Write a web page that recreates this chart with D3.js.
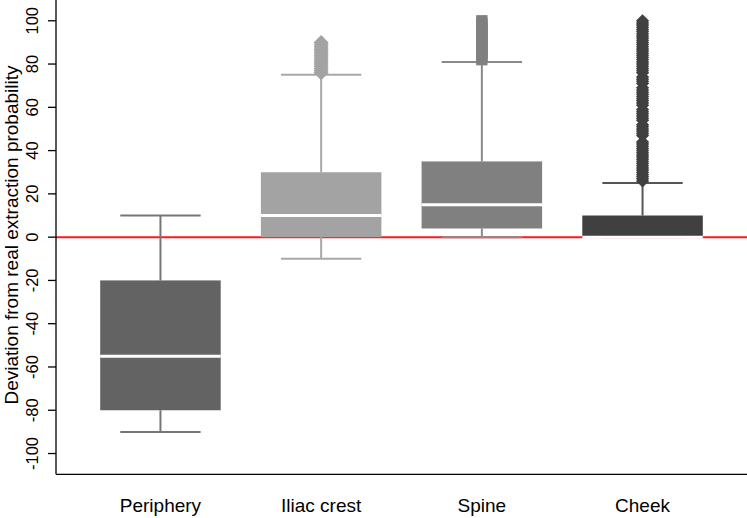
<!DOCTYPE html>
<html>
<head>
<meta charset="utf-8">
<script src="https://cdn.jsdelivr.net/npm/d3@7"></script>
<style>
  body { margin: 0; background: #fff; }
  text { font-family: "Liberation Sans", Arial, sans-serif; }
</style>
</head>
<body>
<div id="chart"></div>
<script>
// box statistics
const categories = ["Periphery", "Iliac crest", "Spine", "Cheek"];
const whiskerLow  = [-90, -10, 0, 0];
const q1          = [-80, 0, 4, 0];
const medians     = [-55, 10, 15, 0];
const q3          = [-20, 30, 35, 10];
const whiskerHigh = [10, 75, 81, 25];

// outliers (dense runs of points above the upper whisker)
const outliersPeriphery = [];
const outliersIliac = [76,77,78,79,80,81,82,83,84,85,86,87,88,89,90];
const outliersSpine = [82,83,84,85,86,87,88,89,90,91,92,93,94,95,96,97,98,99,100];
const outliersCheek = [26,27,28,29,30,31,32,33,34,35,36,37,38,39,40,41,42,43,44,47,48,49,50,51,52,54,55,56,57,58,59,61,62,63,64,65,66,67,68,69,71,72,73,74,76,77,78,79,80,81,82,83,84,85,86,87,88,89,90,91,92,93,94,95,96,97,98,99,100];
const outliers = [outliersPeriphery, outliersIliac, outliersSpine, outliersCheek];

const yTicks = [-100, -80, -60, -40, -20, 0, 20, 40, 60, 80, 100];

// styling
const boxColors     = ["#636363", "#a3a3a3", "#808080", "#404040"];
const whiskerColors = ["#767676", "#a8a8a8", "#8a8a8a", "#555555"];
const outlierShape  = [null, "diamond", "square", "diamond"];

const width = 747, height = 518;
const svg = d3.select("#chart").append("svg")
  .attr("width", width).attr("height", height);

const x = d3.scaleLinear().domain([0.35, 4.65]).range([56, 747]);
const y = d3.scaleLinear().domain([-109.6, 109.6]).range([474.3, 0]);
const boxW = x(0.75) - x(0);
const capW = x(0.5) - x(0);

// reference line at zero
svg.append("line")
  .attr("x1", x.range()[0]).attr("x2", x.range()[1])
  .attr("y1", y(0)).attr("y2", y(0))
  .attr("stroke", "#ff1a1a").attr("stroke-width", 2);

const groups = svg.selectAll("g.box").data(categories).enter().append("g").attr("class", "box");

groups.each(function(cat, i) {
  const g = d3.select(this);
  const cx = x(i + 1);
  // whisker stems
  g.append("line").attr("x1", cx).attr("x2", cx)
    .attr("y1", y(whiskerLow[i])).attr("y2", y(q1[i]))
    .attr("stroke", whiskerColors[i]).attr("stroke-width", 2);
  g.append("line").attr("x1", cx).attr("x2", cx)
    .attr("y1", y(q3[i])).attr("y2", y(whiskerHigh[i]))
    .attr("stroke", whiskerColors[i]).attr("stroke-width", 2);
  // caps
  [whiskerLow[i], whiskerHigh[i]].forEach(v => {
    g.append("line").attr("x1", cx - capW / 2).attr("x2", cx + capW / 2)
      .attr("y1", y(v)).attr("y2", y(v))
      .attr("stroke", whiskerColors[i]).attr("stroke-width", 2);
  });
  // box
  g.append("rect")
    .attr("x", cx - boxW / 2).attr("width", boxW)
    .attr("y", y(q3[i])).attr("height", y(q1[i]) - y(q3[i]))
    .attr("fill", boxColors[i]);
  // median
  g.append("line").attr("x1", cx - boxW / 2).attr("x2", cx + boxW / 2)
    .attr("y1", y(medians[i])).attr("y2", y(medians[i]))
    .attr("stroke", "#fff").attr("stroke-width", 3);
  // outliers
  const shape = outlierShape[i];
  outliers[i].forEach(v => {
    const cy = y(v);
    if (shape === "square") {
      const s = 11.3;
      g.append("rect").attr("x", cx - s / 2).attr("y", cy - s / 2)
        .attr("width", s).attr("height", s).attr("fill", boxColors[i]);
    } else {
      const r = i === 1 ? 7.5 : 6.6;
      g.append("path")
        .attr("d", `M${cx},${cy - r}L${cx + r},${cy}L${cx},${cy + r}L${cx - r},${cy}Z`)
        .attr("fill", boxColors[i]);
    }
  });
});

// axes
svg.append("line").attr("x1", 56).attr("x2", 56).attr("y1", 0).attr("y2", 474.3)
  .attr("stroke", "#000").attr("stroke-width", 1.3);
svg.append("line").attr("x1", 56).attr("x2", 747).attr("y1", 474.3).attr("y2", 474.3)
  .attr("stroke", "#000").attr("stroke-width", 1.3);

const yt = svg.append("g");
yTicks.forEach(t => {
  yt.append("line").attr("x1", 48).attr("x2", 56).attr("y1", y(t)).attr("y2", y(t))
    .attr("stroke", "#000").attr("stroke-width", 1.3);
  yt.append("text")
    .attr("transform", `translate(37.5,${y(t)}) rotate(-90)`)
    .attr("text-anchor", "middle")
    .attr("font-size", "16.5px").attr("fill", "#000")
    .text(t);
});

svg.append("g").selectAll("text").data(categories).enter().append("text")
  .attr("x", (d, i) => x(i + 1)).attr("y", 512)
  .attr("text-anchor", "middle").attr("font-size", "19px").attr("fill", "#000")
  .text(d => d);

svg.append("text")
  .attr("transform", "translate(18,235) rotate(-90)")
  .attr("text-anchor", "middle").attr("font-size", "19px").attr("fill", "#000")
  .text("Deviation from real extraction probability");
</script>
</body>
</html>
